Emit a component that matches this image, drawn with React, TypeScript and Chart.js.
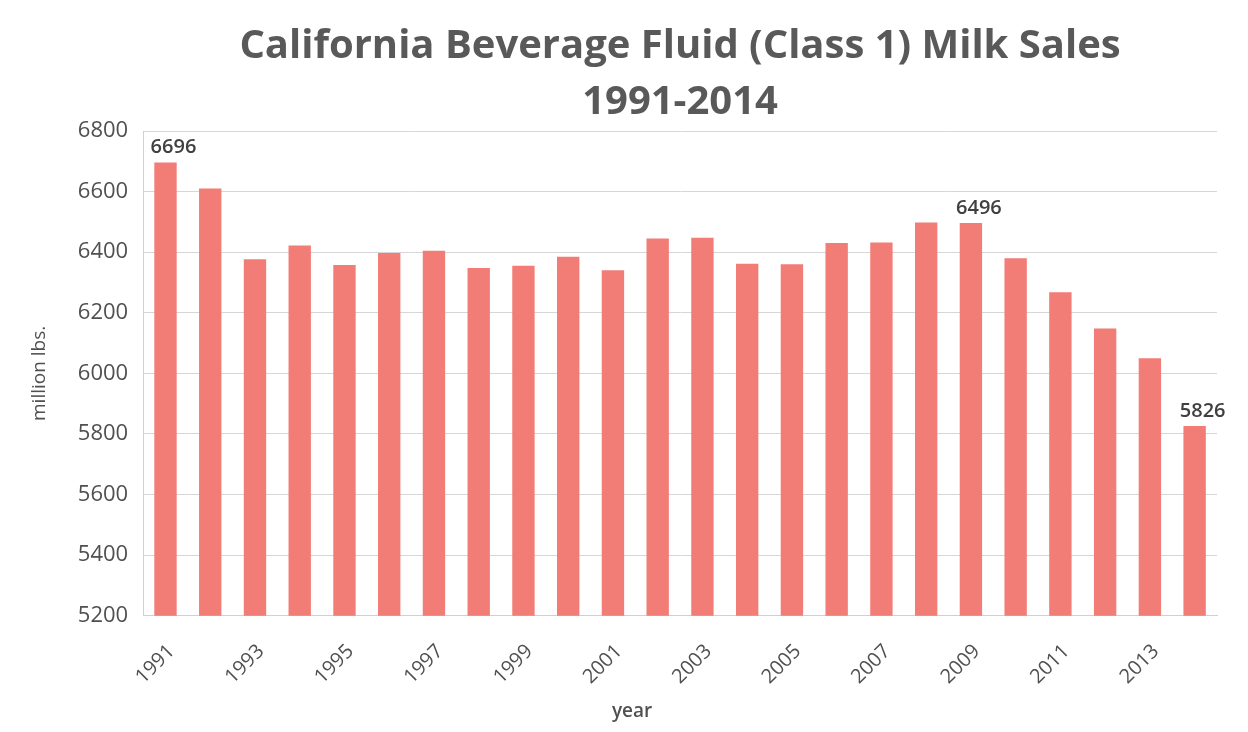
import React, { useEffect, useRef } from "react";
import { Chart, registerables } from "chart.js";

Chart.register(...registerables);

const years = [
  "1991", "1992", "1993", "1994", "1995", "1996", "1997", "1998", "1999", "2000", "2001", "2002",
  "2003", "2004", "2005", "2006", "2007", "2008", "2009", "2010", "2011", "2012", "2013", "2014",
];
const sales = [
  6696, 6610, 6377, 6422, 6358, 6397, 6405, 6348, 6355, 6385, 6340, 6445,
  6448, 6362, 6360, 6430, 6432, 6498, 6496, 6380, 6268, 6148, 6050, 5826,
];
const labeledIndices = [0, 18, 23];
const titleLines = ["California Beverage Fluid (Class 1) Milk Sales", "1991-2014"];
const yTitle = "million lbs.";
const xTitle = "year";

const FONT = "'Open Sans', 'Noto Sans', sans-serif";
const TEXT = "#505050";

const valueLabels = {
  id: "valueLabels",
  afterDatasetsDraw(chart: any) {
    const { ctx, chartArea } = chart;
    const meta = chart.getDatasetMeta(0);
    ctx.save();
    ctx.font = `600 20px ${FONT}`;
    ctx.fillStyle = "#404040";
    ctx.textAlign = "center";
    ctx.textBaseline = "bottom";
    labeledIndices.forEach((i) => {
      const el = meta.data[i];
      ctx.fillText(String(sales[i]), el.x + 8, el.y - 5);
    });
    // x-axis title, placed a bit left of centre as in the original
    ctx.font = `600 19px ${FONT}`;
    ctx.fillStyle = TEXT;
    ctx.textBaseline = "middle";
    ctx.fillText(xTitle, (chartArea.left + chartArea.right) / 2 - 48, 712);
    ctx.restore();
  },
};

export default function App() {
  const ref = useRef<HTMLCanvasElement>(null);
  useEffect(() => {
    document.body.style.margin = "0";
    const chart = new Chart(ref.current!, {
      type: "bar",
      data: {
        labels: years,
        datasets: [
          {
            data: sales,
            backgroundColor: "#F27D76",
            barPercentage: 0.5,
            categoryPercentage: 1,
          },
        ],
      },
      options: {
        animation: false,
        responsive: false,
        maintainAspectRatio: false,
        layout: { padding: { left: 24, right: 31, top: 19, bottom: 27 } },
        plugins: {
          legend: { display: false },
          tooltip: { enabled: false },
          title: {
            display: true,
            fullSize: false,
            text: titleLines,
            color: "#595959",
            font: { family: FONT, size: 40, weight: "bold", lineHeight: 1.4 },
            padding: { top: 0, bottom: 0 },
          },
        },
        scales: {
          x: {
            grid: { display: false },
            border: { color: "#d0d0d0" },
            ticks: {
              autoSkip: false,
              maxRotation: 45,
              minRotation: 45,
              color: TEXT,
              font: { family: FONT, size: 20 },
              padding: 16,
              labelOffset: 6,
              callback: (_v: any, i: number) => (i % 2 === 0 ? years[i] : ""),
            },
          },
          y: {
            min: 5200,
            max: 6800,
            ticks: {
              stepSize: 200,
              color: TEXT,
              font: { family: FONT, size: 22 },
              padding: 15,
              callback: (v: any) => String(v),
            },
            grid: { color: "#d6d6d6", drawTicks: false },
            border: { display: true, color: "#d0d0d0" },
            title: {
              display: true,
              text: yTitle,
              color: TEXT,
              font: { family: FONT, size: 19 },
              padding: { bottom: 12 },
            },
          },
        },
      },
      plugins: [valueLabels],
    });
    return () => chart.destroy();
  }, []);
  return (
    <div style={{ width: 1248, height: 732 }}>
      <canvas ref={ref} width={1248} height={732} style={{ display: "block" }} />
    </div>
  );
}
